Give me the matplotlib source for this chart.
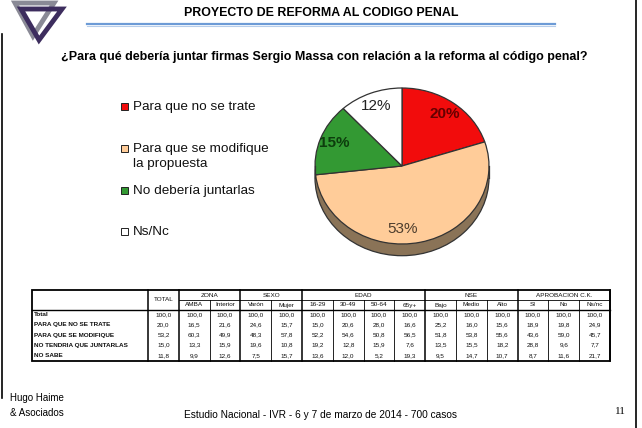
import matplotlib
matplotlib.use('Agg')
import matplotlib.pyplot as plt
from matplotlib.patches import Polygon, Rectangle, Ellipse

# ---------------- data ----------------
pie_labels = ['Para que no se trate', 'Para que se modifique\nla propuesta',
              'No debería juntarlas', 'Ns/Nc']
pie_values = [20.0, 53.2, 15.0, 11.8]
pie_colors = ['#f20c0c', '#ffcc99', '#339933', '#ffffff']
pct_colors = ['#660000', '#4d3d2d', '#0d3d0d', '#222222']

groups = ['ZONA', 'SEXO', 'EDAD', 'NSE', 'APROBACION C.K.']
group_sizes = [2, 2, 4, 3, 3]
sub_cols = ['AMBA', 'Interior', 'Varón', 'Mujer', '16-29', '30-49', '50-64', '65y+',
            'Bajo', 'Medio', 'Alto', 'SI', 'No', 'Ns/nc']
row_labels = ['Total', 'PARA QUE NO SE TRATE', 'PARA QUE SE MODIFIQUE',
              'NO TENDRIA QUE JUNTARLAS', 'NO SABE']
total_col = [100.0, 20.0, 53.2, 15.0, 11.8]
row_total = [100.0] * 14
row_no_trate = [16.5, 21.6, 24.6, 15.7, 15.0, 20.6, 28.0, 16.6, 25.2, 16.0, 15.6, 18.9, 19.8, 24.9]
row_modif = [60.3, 49.9, 48.3, 57.8, 52.2, 54.6, 50.8, 56.5, 51.8, 53.8, 55.6, 43.6, 59.0, 45.7]
row_no_tend = [13.3, 15.9, 19.6, 10.8, 19.2, 12.8, 15.9, 7.6, 13.5, 15.5, 18.2, 28.8, 9.6, 7.7]
row_no_sabe = [9.9, 12.6, 7.5, 15.7, 13.6, 12.0, 5.2, 19.3, 9.5, 14.7, 10.7, 8.7, 11.6, 21.7]
table_rows = [row_total, row_no_trate, row_modif, row_no_tend, row_no_sabe]

plt.rcParams['font.family'] = ['Liberation Sans', 'DejaVu Sans']

W, H = 642, 428
fig = plt.figure(figsize=(W / 100, H / 100), dpi=100)
fig.patch.set_facecolor('white')

# background axes in pixel units
bg = fig.add_axes([0, 0, 1, 1])
bg.set_xlim(0, W)
bg.set_ylim(H, 0)
bg.axis('off')

# slide frame
bg.plot([1.5, 1.5], [34, 398], color='black', lw=1.2)
bg.plot([636, 636], [0, H], color='black', lw=1.2)

# logo
bg.add_patch(Polygon([(15, 3), (54, 3), (33, 36)], closed=True, fc='none',
                     ec='#8a8a96', lw=3.5, joinstyle='miter'))
bg.add_patch(Polygon([(21, 9), (62, 9), (39, 40)], closed=True, fc='none',
                     ec='#3d2d5e', lw=3.5, joinstyle='miter'))

# title
bg.text(321, 13, 'PROYECTO DE REFORMA AL CODIGO PENAL', ha='center', va='center',
        fontsize=8.9, fontweight='bold')
bg.plot([87, 555], [24, 24], color='#6d9bd6', lw=1.6)
bg.plot([87, 555], [25.5, 25.5], color='#b7cdea', lw=0.8)

# question
bg.text(324, 57, '¿Para qué debería juntar firmas Sergio Massa con relación a la reforma al código penal?',
        ha='center', va='center', fontsize=9.0, fontweight='bold')

# legend
leg_y = [106, 148, 190, 231]
for lab, col, y in zip(pie_labels, pie_colors, leg_y):
    bg.add_patch(Rectangle((120.5, y - 3.5), 7, 7, fc=col, ec='#222222', lw=0.7))
    bg.text(133, y - 4.8, lab, ha='left', va='top', fontsize=9.7,
            linespacing=1.3, color='#111111')

# pie (elliptical, with a 3D side)
cx, cy, rx, ry = 402, 166, 87, 78
x0, x1, y0, y1 = -1.1, 1.1, -1.3, 1.1
axp = fig.add_axes([(cx + x0 * rx) / W, 1 - (cy - y0 * ry) / H,
                    (x1 - x0) * rx / W, (y1 - y0) * ry / H])
axp.add_patch(Ellipse((0, -0.15), 2, 2, fc='#8a7357', ec='#333333', lw=0.9))
axp.add_patch(Rectangle((-1, -0.15), 2, 0.15, fc='#8a7357', ec='none'))
axp.plot([-1, -1], [-0.15, 0], color='#333333', lw=0.9)
axp.plot([1, 1], [-0.15, 0], color='#333333', lw=0.9)
wedges, _, autotexts = axp.pie(pie_values, colors=pie_colors, startangle=90,
                               counterclock=False, autopct='%1.0f%%',
                               pctdistance=0.83,
                               wedgeprops=dict(edgecolor='#333333', linewidth=0.9))
for t, c, w in zip(autotexts, pct_colors, ['bold', 'normal', 'bold', 'normal']):
    t.set_color(c)
    t.set_fontsize(11)
    t.set_fontweight(w)
# the 53% label sits lower and more centred in the reference
px, py = autotexts[1].get_position()
autotexts[1].set_position((px - 0.17, py))
axp.set_aspect('auto')
axp.set_xlim(x0, x1)
axp.set_ylim(y0, y1)
axp.axis('off')

# ---------------- table ----------------
tx0, tlab, tx1 = 32, 148, 610
ty0, ty_mid, ty_head, ty1 = 290, 299.5, 309.5, 360.5
ncols = 15
cw = (tx1 - tlab) / ncols
edges = [tlab + i * cw for i in range(ncols + 1)]
rh = (ty1 - ty_head) / len(row_labels)
fs = 4.6
tc = '#111111'

bg.add_patch(Rectangle((tx0, ty0), tx1 - tx0, ty1 - ty0, fc='none', ec='black', lw=1.3))
bg.plot([tx0, tx1], [ty_head, ty_head], color='black', lw=1.0)
bg.plot([edges[1], tx1], [ty_mid, ty_mid], color='black', lw=0.6)
# vertical lines
gb = [0, 1]
for s in group_sizes:
    gb.append(gb[-1] + s)
for i in range(ncols + 1):
    if i in gb:
        bg.plot([edges[i], edges[i]], [ty0, ty1], color='black', lw=1.1)
    else:
        bg.plot([edges[i], edges[i]], [ty_mid, ty1], color='black', lw=0.6)

bg.text((edges[0] + edges[1]) / 2, (ty0 + ty_head) / 2, 'TOTAL', ha='center',
        va='center', fontsize=fs, color=tc)
for g, a, b in zip(groups, gb[1:-1], gb[2:]):
    bg.text((edges[a] + edges[b]) / 2, (ty0 + ty_mid) / 2 + 0.5, g, ha='center',
            va='center', fontsize=fs, color=tc)
for j, s in enumerate(sub_cols):
    bg.text((edges[j + 1] + edges[j + 2]) / 2, (ty_mid + ty_head) / 2 + 0.5, s,
            ha='center', va='center', fontsize=fs, color=tc)

for r, lab in enumerate(row_labels):
    yy = ty_head + (r + 0.5) * rh
    bg.text(tx0 + 2, yy, lab, ha='left', va='center', fontsize=fs,
            fontweight='bold', color=tc)
    vals = [total_col[r]] + table_rows[r]
    for j, v in enumerate(vals):
        bg.text((edges[j] + edges[j + 1]) / 2, yy, f'{v:.1f}'.replace('.', ','),
                ha='center', va='center', fontsize=fs, color=tc)

# footer
bg.text(10, 398, 'Hugo Haime', ha='left', va='center', fontsize=7)
bg.text(10, 413, '& Asociados', ha='left', va='center', fontsize=7)
bg.text(320, 415, 'Estudio Nacional - IVR - 6 y 7 de marzo de 2014 - 700 casos',
        ha='center', va='center', fontsize=7.3)
bg.text(620, 412, '11', ha='center', va='center', fontsize=8, family='Liberation Serif')

fig.savefig('out.png', dpi=100)
